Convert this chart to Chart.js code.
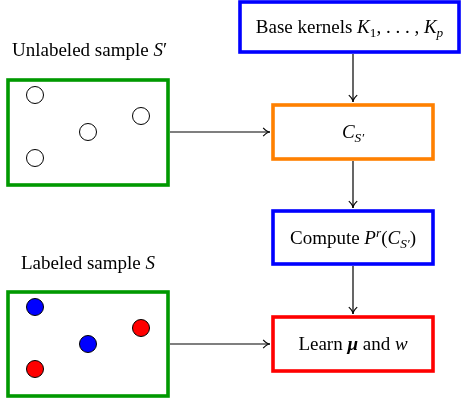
<!DOCTYPE html>
<html>
<head>
<meta charset="utf-8">
<script src="https://cdn.jsdelivr.net/npm/chart.js@4"></script>
<style>
  html, body { margin: 0; padding: 0; background: #fff; }
  #wrap { width: 461px; height: 404px; }
</style>
</head>
<body>
<div id="wrap"><canvas id="diagram" width="461" height="404"></canvas></div>
<script>
// Sample points (pixel-like units of the figure)
const unlabeledX = [35, 88, 141, 35];
const unlabeledY = [95, 132, 116, 158];
const labeledX = [35, 88, 141, 35];
const labeledY = [307, 344, 328, 369];
const labeledClass = ['blue', 'blue', 'red', 'red'];

// Boxes of the flow diagram
const boxNames = ['base', 'cs', 'compute', 'learn', 'unlabeled', 'labeled'];
const boxLeft = [240, 273, 273, 273, 8, 8];
const boxTop = [2, 105, 211, 317, 80, 292];
const boxRight = [459, 433, 433, 433, 168, 168];
const boxBottom = [52, 159, 264, 371, 185, 396];
const boxColor = ['#0000ff', '#ff8000', '#0000ff', '#ff0000', '#009900', '#009900'];

// Arrows (from box -> to box)
const edgeFrom = ['base', 'cs', 'compute', 'unlabeled', 'labeled'];
const edgeTo = ['cs', 'compute', 'learn', 'cs', 'learn'];

// Labels: i = italic, b = bold, s = sub / sup
const boxLabels = {
  base: [{t: 'Base kernels '}, {t: 'K', i: 1}, {t: '1', s: 'sub'}, {t: ', . . . , '}, {t: 'K', i: 1}, {t: 'p', i: 1, s: 'sub'}],
  cs: [{t: 'C', i: 1}, {t: 'S\u2032', i: 1, s: 'sub'}],
  compute: [{t: 'Compute '}, {t: 'P', i: 1}, {t: 'r', i: 1, s: 'sup'}, {t: '('}, {t: 'C', i: 1}, {t: 'S\u2032', i: 1, s: 'sub'}, {t: ')'}],
  learn: [{t: 'Learn '}, {t: '\u03bc', i: 1, b: 1}, {t: ' and '}, {t: 'w', i: 1}]
};
const titleLabels = [
  {x: 12, y: 56, segs: [{t: 'Unlabeled sample '}, {t: 'S', i: 1}, {t: '\u2032'}]},
  {x: 21, y: 269, segs: [{t: 'Labeled sample '}, {t: 'S', i: 1}]}
];

const FONT = '"Liberation Serif", "DejaVu Serif", serif';
const SIZE = 19;

function segFont(seg) {
  const sz = seg.s ? SIZE * 0.7 : SIZE;
  return (seg.i ? 'italic ' : '') + (seg.b ? 'bold ' : '') + sz + 'px ' + FONT;
}

function richWidth(ctx, segs) {
  let w = 0;
  segs.forEach(seg => { ctx.font = segFont(seg); w += ctx.measureText(seg.t).width; });
  return w;
}

function drawRich(ctx, segs, x, baseline) {
  ctx.fillStyle = '#000';
  ctx.textBaseline = 'alphabetic';
  ctx.textAlign = 'left';
  segs.forEach(seg => {
    ctx.font = segFont(seg);
    let dy = 0;
    if (seg.s === 'sub') dy = SIZE * 0.22;
    if (seg.s === 'sup') dy = -SIZE * 0.38;
    ctx.fillText(seg.t, x, baseline + dy);
    x += ctx.measureText(seg.t).width;
  });
}

function boxPx(chart, name) {
  const k = boxNames.indexOf(name);
  const xs = chart.scales.x, ys = chart.scales.y;
  const l = xs.getPixelForValue(boxLeft[k]), r = xs.getPixelForValue(boxRight[k]);
  const t = ys.getPixelForValue(boxTop[k]), b = ys.getPixelForValue(boxBottom[k]);
  return {l, r, t, b, cx: (l + r) / 2, cy: (t + b) / 2, color: boxColor[k]};
}

function arrow(ctx, x1, y1, x2, y2) {
  ctx.strokeStyle = '#000';
  ctx.lineWidth = 1.2;
  ctx.beginPath();
  ctx.moveTo(x1, y1);
  ctx.lineTo(x2, y2);
  ctx.stroke();
  const a = Math.atan2(y2 - y1, x2 - x1);
  const len = 8, spread = 0.55;
  const mx = x2 - 3 * Math.cos(a), my = y2 - 3 * Math.sin(a);
  ctx.beginPath();
  ctx.moveTo(x2 - len * Math.cos(a - spread), y2 - len * Math.sin(a - spread));
  ctx.quadraticCurveTo(mx, my, x2, y2);
  ctx.quadraticCurveTo(mx, my, x2 - len * Math.cos(a + spread), y2 - len * Math.sin(a + spread));
  ctx.stroke();
}

const diagramPlugin = {
  id: 'diagram',
  beforeDatasetsDraw(chart) {
    const ctx = chart.ctx;
    ctx.save();
    // boxes
    boxNames.forEach(name => {
      const p = boxPx(chart, name);
      ctx.fillStyle = '#fff';
      ctx.fillRect(p.l, p.t, p.r - p.l, p.b - p.t);
      ctx.strokeStyle = p.color;
      ctx.lineWidth = 3.6;
      ctx.strokeRect(p.l, p.t, p.r - p.l, p.b - p.t);
    });
    // arrows
    edgeFrom.forEach((from, k) => {
      const a = boxPx(chart, from), b = boxPx(chart, edgeTo[k]);
      if (a.r < b.l) {
        arrow(ctx, a.r + 2, b.cy, b.l - 3, b.cy);
      } else {
        arrow(ctx, b.cx, a.b + 2, b.cx, b.t - 3);
      }
    });
    // box labels
    Object.keys(boxLabels).forEach(name => {
      const p = boxPx(chart, name);
      const segs = boxLabels[name];
      const w = richWidth(ctx, segs);
      drawRich(ctx, segs, p.cx - w / 2, p.cy + SIZE * 0.33);
    });
    // titles
    titleLabels.forEach(tl => {
      drawRich(ctx, tl.segs, chart.scales.x.getPixelForValue(tl.x), chart.scales.y.getPixelForValue(tl.y));
    });
    ctx.restore();
  }
};

const pointColors = { blue: '#0000ff', red: '#ff0000' };

new Chart(document.getElementById('diagram'), {
  type: 'scatter',
  data: {
    datasets: [
      {
        label: 'Unlabeled sample',
        data: unlabeledX.map((x, i) => ({x: x, y: unlabeledY[i]})),
        backgroundColor: '#fff',
        borderColor: '#000',
        borderWidth: 1,
        pointRadius: 8.5
      },
      {
        label: 'Labeled sample',
        data: labeledX.map((x, i) => ({x: x, y: labeledY[i]})),
        backgroundColor: labeledClass.map(c => pointColors[c]),
        borderColor: '#000',
        borderWidth: 1,
        pointRadius: 8.5
      }
    ]
  },
  options: {
    responsive: false,
    animation: false,
    devicePixelRatio: 1,
    layout: { padding: 0, autoPadding: false },
    plugins: { legend: { display: false }, tooltip: { enabled: false } },
    scales: {
      x: { type: 'linear', min: 0, max: 461, display: false },
      y: { type: 'linear', min: 0, max: 404, reverse: true, display: false }
    }
  },
  plugins: [diagramPlugin]
});
</script>
</body>
</html>
